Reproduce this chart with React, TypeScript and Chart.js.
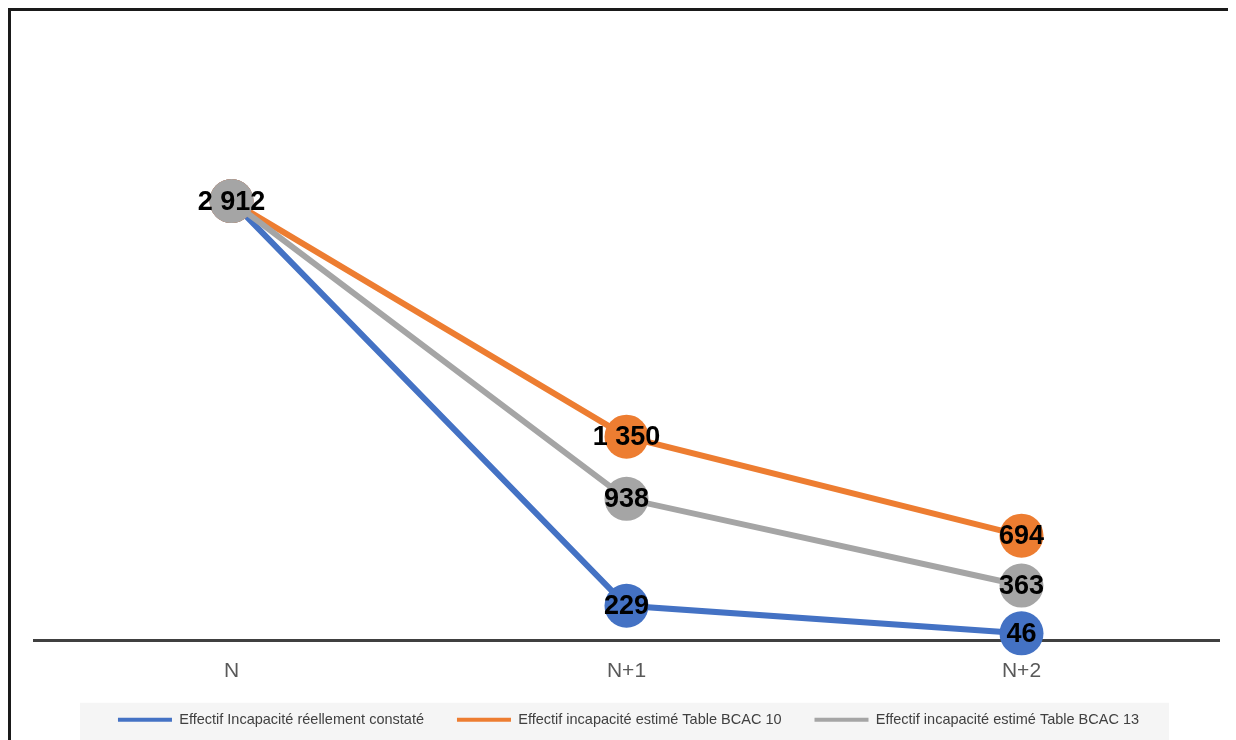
import React, { useEffect, useRef } from "react";
import { Chart, registerables } from "chart.js";

Chart.register(...registerables);

const categories = ["N", "N+1", "N+2"];
const seriesNames = [
  "Effectif Incapacité réellement constaté",
  "Effectif incapacité estimé Table BCAC 10",
  "Effectif incapacité estimé Table BCAC 13",
];
const reelValues = [2912, 229, 46];
const bcac10Values = [2912, 1350, 694];
const bcac13Values = [2912, 938, 363];
const seriesColors = ["#4472C4", "#ED7D31", "#A5A5A5"];
const yMax = 4000;

const fmt = (v: number) => String(v).replace(/\B(?=(\d{3})+(?!\d))/g, " ");

const labelPlugin = {
  id: "pointLabels",
  afterDatasetsDraw(chart: any) {
    const ctx = chart.ctx;
    ctx.save();
    ctx.font = "bold 27px 'Liberation Sans', Arial, sans-serif";
    ctx.fillStyle = "#000000";
    ctx.textAlign = "center";
    ctx.textBaseline = "middle";
    const seen = new Set<string>();
    chart.data.datasets.forEach((ds: any, di: number) => {
      const meta = chart.getDatasetMeta(di);
      meta.data.forEach((pt: any, i: number) => {
        const key = Math.round(pt.x) + "," + Math.round(pt.y);
        if (seen.has(key)) return;
        seen.add(key);
        ctx.fillText(fmt(ds.data[i]), pt.x, pt.y + 1);
      });
    });
    ctx.restore();
  },
};

const legendBgPlugin = {
  id: "legendBg",
  beforeDraw(chart: any) {
    const lg = chart.legend;
    if (!lg || !lg.legendHitBoxes || !lg.legendHitBoxes.length) return;
    const boxes = lg.legendHitBoxes;
    let minX = Infinity, maxX = -Infinity, cy = 0;
    boxes.forEach((b: any) => {
      minX = Math.min(minX, b.left);
      maxX = Math.max(maxX, b.left + b.width);
      cy = b.top + b.height / 2;
    });
    const ctx = chart.ctx;
    ctx.save();
    ctx.fillStyle = "#F5F5F5";
    ctx.fillRect(minX - 38, cy - 17, maxX - minX + 68, chart.height - (cy - 17));
    ctx.restore();
  },
};

export default function App() {
  const ref = useRef<HTMLCanvasElement | null>(null);
  useEffect(() => {
    document.documentElement.style.overflow = "hidden";
    document.body.style.overflow = "hidden";
    const canvas = ref.current!;
    const mk = (i: number, data: number[], order: number) => ({
      label: seriesNames[i],
      data,
      borderColor: seriesColors[i],
      backgroundColor: seriesColors[i],
      borderWidth: 6,
      pointRadius: 22,
      pointHoverRadius: 22,
      pointBorderWidth: 0,
      pointBackgroundColor: seriesColors[i],
      tension: 0,
      clip: false,
      order,
    });
    const chart = new Chart(canvas, {
      type: "line",
      data: {
        labels: categories,
        datasets: [mk(0, reelValues, 3), mk(1, bcac10Values, 2), mk(2, bcac13Values, 1)],
      },
      options: {
        responsive: false,
        animation: false,
        devicePixelRatio: 1,
        layout: { padding: { left: 23, right: 18, top: 26, bottom: 19 } },
        scales: {
          x: {
            offset: true,
            grid: { display: false, drawTicks: false },
            border: { display: true, color: "#404040", width: 3 },
            ticks: {
              color: "#595959",
              padding: 18,
              font: { size: 21, family: "'Liberation Sans', Arial, sans-serif" },
            },
            afterFit: (scale: any) => {
              scale.height -= 22;
            },
          },
          y: {
            display: false,
            min: 0,
            max: yMax,
            grid: { display: false },
          },
        },
        plugins: {
          tooltip: { enabled: false },
          legend: {
            position: "bottom",
            labels: {
              color: "#404040",
              boxWidth: 54,
              boxHeight: 4,
              padding: 33,
              font: { size: 14.5, family: "'Liberation Sans', Arial, sans-serif" },
              generateLabels: (c: any) =>
                c.data.datasets.map((ds: any, i: number) => ({
                  text: ds.label,
                  fillStyle: seriesColors[i],
                  strokeStyle: seriesColors[i],
                  lineWidth: 0,
                  fontColor: "#404040",
                  datasetIndex: i,
                  hidden: false,
                })),
            },
          },
        },
      },
      plugins: [labelPlugin, legendBgPlugin],
    });
    return () => chart.destroy();
  }, []);
  return (
    <div
      style={{
        border: "3px solid #1a1a1a",
        width: 1250,
        height: 760,
        overflow: "hidden",
        background: "#ffffff",
      }}
    >
      <canvas ref={ref} width={1230} height={745} style={{ display: "block" }} />
    </div>
  );
}
